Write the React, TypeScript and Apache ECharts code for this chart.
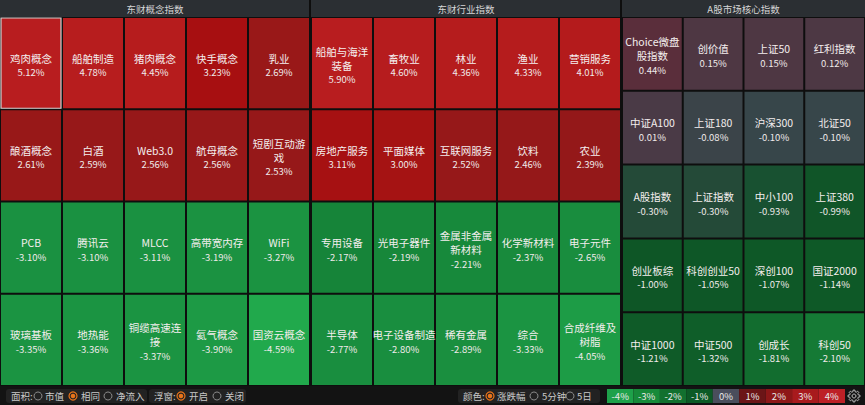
import React, { useEffect, useRef } from 'react';
import * as echarts from 'echarts';

// ---------------- data ----------------
const conceptTitle = '东财概念指数';
const conceptNames = ['鸡肉概念', '船舶制造', '猪肉概念', '快手概念', '乳业', '酿酒概念', '白酒', 'Web3.0', '航母概念', '短剧互动游\n戏', 'PCB', '腾讯云', 'MLCC', '高带宽内存', 'WiFi', '玻璃基板', '地热能', '铜缆高速连\n接', '氦气概念', '国资云概念'];
const conceptChanges = [5.12, 4.78, 4.45, 3.23, 2.69, 2.61, 2.59, 2.56, 2.56, 2.53, -3.10, -3.10, -3.11, -3.19, -3.27, -3.35, -3.36, -3.37, -3.90, -4.59];

const industryTitle = '东财行业指数';
const industryNames = ['船舶与海洋\n装备', '畜牧业', '林业', '渔业', '营销服务', '房地产服务', '平面媒体', '互联网服务', '饮料', '农业', '专用设备', '光电子器件', '金属非金属\n新材料', '化学新材料', '电子元件', '半导体', '电子设备制造', '稀有金属', '综合', '合成纤维及\n树脂'];
const industryChanges = [5.90, 4.60, 4.36, 4.33, 4.01, 3.11, 3.00, 2.52, 2.46, 2.39, -2.17, -2.19, -2.21, -2.37, -2.65, -2.77, -2.80, -2.89, -3.33, -4.05];

const indexTitle = 'A股市场核心指数';
const indexNames = ['Choice微盘\n股指数', '创价值', '上证50', '红利指数', '中证A100', '上证180', '沪深300', '北证50', 'A股指数', '上证指数', '中小100', '上证380', '创业板综', '科创创业50', '深创100', '国证2000', '中证1000', '中证500', '创成长', '科创50'];
const indexChanges = [0.44, 0.15, 0.15, 0.12, 0.01, -0.08, -0.10, -0.10, -0.30, -0.30, -0.93, -0.99, -1.00, -1.05, -1.07, -1.14, -1.21, -1.32, -1.81, -2.10];

const areaLabel = '面积:';
const areaOptions = ['市值', '相同', '净流入'];
const popupLabel = '浮窗:';
const popupOptions = ['开启', '关闭'];
const colorLabel = '颜色:';
const colorOptions = ['涨跌幅', '5分钟', '5日'];
const legendLabels = ['-4%', '-3%', '-2%', '-1%', '0%', '1%', '2%', '3%', '4%'];

// ---------------- style ----------------
const FONT = "'Noto Sans CJK SC', 'Microsoft YaHei', sans-serif";
const legendColors = ['#1ea14a', '#178a3a', '#12702f', '#0c5a26', '#4a4e5c', '#6b1517', '#8d1718', '#a81a1d', '#bd2026'];
const colorStops: [number, string][] = [
  [-4.6, '#21a94c'], [-4, '#1d9b45'], [-3, '#1a9040'], [-2.2, '#17893b'], [-2.1, '#157a35'],
  [-1.8, '#126d2f'], [-1.3, '#0f5d29'], [-1.0, '#0e5626'], [-0.95, '#185131'], [-0.3, '#244a38'],
  [-0.1, '#37464a'], [0, '#4a3a46'], [0.15, '#4e3743'], [0.44, '#5a2e3b'], [1, '#6c1c22'],
  [2, '#8c1a1b'], [2.5, '#961819'], [2.7, '#991818'], [3.0, '#a51313'], [3.25, '#a70f11'],
  [4, '#b41b1c'], [5, '#b81d1f'], [6, '#b81d1f'],
];

function hex(c: string) {
  return [parseInt(c.slice(1, 3), 16), parseInt(c.slice(3, 5), 16), parseInt(c.slice(5, 7), 16)];
}
function colorFor(v: number) {
  if (v <= colorStops[0][0]) return colorStops[0][1];
  for (let i = 1; i < colorStops.length; i++) {
    const [v1, c1] = colorStops[i];
    const [v0, c0] = colorStops[i - 1];
    if (v <= v1) {
      const t = (v - v0) / (v1 - v0);
      const a = hex(c0), b = hex(c1);
      const m = a.map((x, k) => Math.round(x + (b[k] - x) * t));
      return `rgb(${m[0]},${m[1]},${m[2]})`;
    }
  }
  return colorStops[colorStops.length - 1][1];
}

type Panel = { title: string; names: string[]; changes: number[]; cols: number; left: number; width: number; selected: number };

const panels: Panel[] = [
  { title: conceptTitle, names: conceptNames, changes: conceptChanges, cols: 5, left: 0, width: 310, selected: 0 },
  { title: industryTitle, names: industryNames, changes: industryChanges, cols: 5, left: 311, width: 310, selected: -1 },
  { title: indexTitle, names: indexNames, changes: indexChanges, cols: 4, left: 622, width: 243, selected: -1 },
];

const HEADER_H = 17;
const GRID_BOTTOM = 386;

function buildOption() {
  const grids: any[] = [];
  const xAxes: any[] = [];
  const yAxes: any[] = [];
  const series: any[] = [];
  const graphics: any[] = [];

  panels.forEach((p, pi) => {
    const rows = Math.ceil(p.names.length / p.cols);
    grids.push({ left: p.left, top: HEADER_H, width: p.width, height: GRID_BOTTOM - HEADER_H, containLabel: false });
    xAxes.push({ type: 'category', gridIndex: pi, data: Array.from({ length: p.cols }, (_, i) => String(i)), show: false });
    yAxes.push({ type: 'category', gridIndex: pi, inverse: true, data: Array.from({ length: rows }, (_, i) => String(i)), show: false });
    const data = p.changes.map((v, i) => [i % p.cols, Math.floor(i / p.cols), v]);
    series.push({
      type: 'custom',
      xAxisIndex: pi,
      yAxisIndex: pi,
      data,
      silent: true,
      renderItem: (params: any, api: any) => {
        const idx = params.dataIndex;
        const c = api.coord([api.value(0), api.value(1)]);
        const s = api.size([1, 1]);
        const w = s[0], h = s[1];
        const x = c[0] - w / 2, y = c[1] - h / 2;
        const v = api.value(2) as number;
        const pct = v.toFixed(2) + '%';
        const sel = idx === p.selected;
        return {
          type: 'group',
          children: [
            {
              type: 'rect',
              shape: { x: x + 1, y: y + 1, width: w - 2, height: h - 2 },
              style: { fill: colorFor(v), stroke: sel ? '#d4d4d4' : 'none', lineWidth: sel ? 1.2 : 0 },
            },
            {
              type: 'text',
              x: c[0],
              y: c[1] + 2,
              style: {
                text: `{n|${p.names[idx]}}\n{p|${pct}}`,
                align: 'center',
                verticalAlign: 'middle',
                fill: '#f2ecec',
                fontFamily: FONT,
                rich: {
                  n: { fontSize: 10.5, lineHeight: 14, fill: '#f4eeee', fontFamily: FONT, align: 'center' },
                  p: { fontSize: 9.5, lineHeight: 14, fill: '#f0eaea', fontFamily: FONT, align: 'center' },
                },
              },
            },
          ],
        };
      },
    });
    // header
    graphics.push({
      type: 'rect', silent: true,
      shape: { x: p.left, y: 0, width: p.width - (pi === 2 ? 0 : 1), height: HEADER_H },
      style: { fill: '#2b2f33' },
    });
    graphics.push({
      type: 'text', silent: true, x: p.left + p.width / 2, y: HEADER_H / 2,
      style: { text: p.title, fill: '#d6d6d6', fontSize: 9.5, fontFamily: FONT, align: 'center', verticalAlign: 'middle' },
    });
  });

  // bottom bar
  const barY = 396;
  graphics.push({ type: 'rect', shape: { x: 0, y: GRID_BOTTOM, width: 865, height: 405 - GRID_BOTTOM }, style: { fill: '#131313' }, silent: true });
  const groupBox = (x: number, w: number) => ({ type: 'rect', shape: { x, y: 389, width: w, height: 14, r: 3 }, style: { fill: '#222222' }, silent: true });
  const label = (x: number, text: string) => ({ type: 'text', x, y: barY, silent: true, style: { text, fill: '#c8c8c8', fontSize: 9.5, fontFamily: FONT, align: 'left', verticalAlign: 'middle' } });
  const radio = (cx: number, on: boolean) => on
    ? [
      { type: 'circle', silent: true, shape: { cx, cy: barY, r: 4 }, style: { fill: 'none', stroke: '#e8731a', lineWidth: 1.2 } },
      { type: 'circle', silent: true, shape: { cx, cy: barY, r: 2.3 }, style: { fill: '#e8731a' } },
    ]
    : [{ type: 'circle', silent: true, shape: { cx, cy: barY, r: 4 }, style: { fill: 'none', stroke: '#8a8a8a', lineWidth: 1 } }];

  graphics.push(groupBox(6, 141));
  graphics.push(label(11, areaLabel));
  const areaRadioX = [38, 73, 108];
  const areaTextX = [45, 81, 116];
  areaOptions.forEach((t, i) => { graphics.push(...radio(areaRadioX[i], i === 1)); graphics.push(label(areaTextX[i], t)); });

  graphics.push(groupBox(149, 97));
  graphics.push(label(154, popupLabel));
  const popRadioX = [181, 217];
  const popTextX = [189, 225];
  popupOptions.forEach((t, i) => { graphics.push(...radio(popRadioX[i], i === 0)); graphics.push(label(popTextX[i], t)); });

  graphics.push(groupBox(458, 142));
  graphics.push(label(463, colorLabel));
  const colRadioX = [490, 534, 570];
  const colTextX = [497, 542, 577];
  colorOptions.forEach((t, i) => { graphics.push(...radio(colRadioX[i], i === 0)); graphics.push(label(colTextX[i], t)); });

  const lx0 = 607, lw = 238 / legendLabels.length;
  legendLabels.forEach((t, i) => {
    graphics.push({ type: 'rect', silent: true, shape: { x: lx0 + i * lw, y: 389, width: lw, height: 14 }, style: { fill: legendColors[i] } });
    graphics.push({ type: 'text', silent: true, x: lx0 + i * lw + lw / 2, y: barY, style: { text: t, fill: '#e8e8e8', fontSize: 9.5, fontFamily: FONT, align: 'center', verticalAlign: 'middle' } });
  });

  // gear icon
  const gcx = 854, gcy = 396, teeth = 8, ro = 6, ri = 4.4;
  const pts: number[][] = [];
  for (let i = 0; i < teeth; i++) {
    const a0 = (i / teeth) * Math.PI * 2;
    const step = Math.PI * 2 / teeth;
    const angs = [a0 - step * 0.18, a0 + step * 0.18, a0 + step * 0.32, a0 + step * 0.68];
    const rads = [ro, ro, ri, ri];
    angs.forEach((a, k) => pts.push([gcx + rads[k] * Math.cos(a), gcy + rads[k] * Math.sin(a)]));
  }
  graphics.push({ type: 'polygon', silent: true, shape: { points: pts }, style: { fill: 'none', stroke: '#bdbdbd', lineWidth: 1 } });
  graphics.push({ type: 'circle', silent: true, shape: { cx: gcx, cy: gcy, r: 2 }, style: { fill: 'none', stroke: '#bdbdbd', lineWidth: 1 } });

  return {
    animation: false,
    backgroundColor: '#0e0e0e',
    grid: grids,
    xAxis: xAxes,
    yAxis: yAxes,
    series,
    graphic: graphics,
  };
}

export default function App() {
  const ref = useRef<HTMLDivElement>(null);
  useEffect(() => {
    document.body.style.margin = '0';
    const chart = echarts.init(ref.current!, undefined, { renderer: 'svg' });
    chart.setOption(buildOption() as any);
    return () => chart.dispose();
  }, []);
  return <div ref={ref} style={{ width: 865, height: 405, position: 'fixed', left: 0, top: 0 }} />;
}
